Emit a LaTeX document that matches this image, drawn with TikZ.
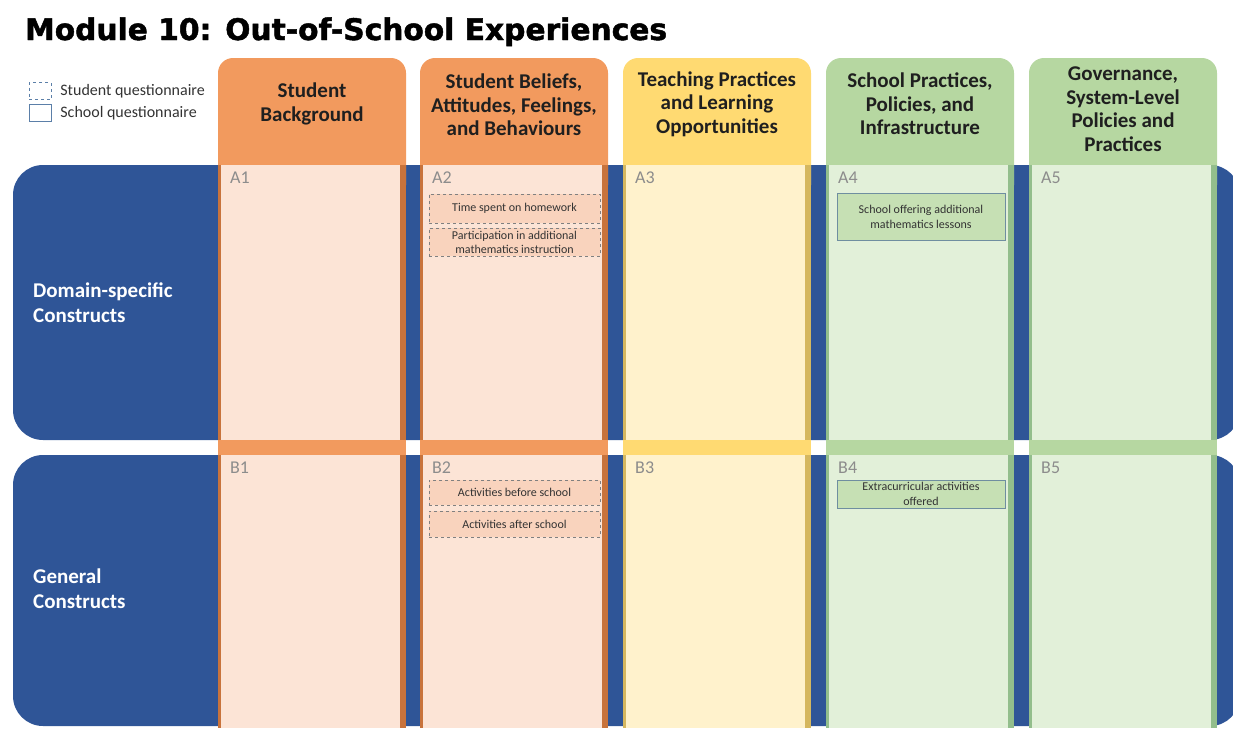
\documentclass[tikz,border=0pt]{standalone}
\usepackage{fontspec}
\setmainfont{Carlito}
\newfontfamily\titlefont[BoldFeatures={FakeBold=1.6}]{DejaVu Sans}
\usetikzlibrary{positioning}
\usepackage{xcolor}

\definecolor{rowblue}{HTML}{2F5597}
\definecolor{orhead}{HTML}{F29A5E}
\definecolor{orside}{HTML}{C8733C}
\definecolor{orcell}{HTML}{FCE4D6}
\definecolor{orbox}{HTML}{F9D3BD}
\definecolor{yehead}{HTML}{FFDA72}
\definecolor{yeside}{HTML}{D5B75F}
\definecolor{yecell}{HTML}{FFF2CC}
\definecolor{grhead}{HTML}{B6D7A1}
\definecolor{grside}{HTML}{93BE8C}
\definecolor{grcell}{HTML}{E2F0D9}
\definecolor{grbox}{HTML}{C6E0B4}
\definecolor{boxline}{HTML}{6F8EA0}
\definecolor{legline}{HTML}{5B7FA8}
\definecolor{taggray}{HTML}{8C8C8C}

\begin{document}
\begin{tikzpicture}[
    x=1pt, y=-1pt,
    row/.style={fill=rowblue, rounded corners=30pt},
    head/.style={rounded corners=15pt},
    hdtext/.style={font=\fontsize{21}{23.5}\selectfont\bfseries, align=center, text=black!88, inner sep=0pt},
    cell/.style={anchor=north west, inner sep=0pt, minimum width=179pt},
    tag/.style={anchor=north west, inner sep=0pt, font=\fontsize{18}{18}\selectfont, text=taggray},
    stu/.style={draw=black!50, dashed, fill=orbox, minimum width=171pt, inner sep=1pt, align=center, font=\fontsize{12}{14.5}\selectfont, text=black!80},
    sch/.style={draw=boxline, fill=grbox, minimum width=168pt, inner sep=1pt, align=center, font=\fontsize{12}{14.5}\selectfont, text=black!80},
    rowtext/.style={anchor=north west, inner sep=0pt, align=left, font=\fontsize{21}{25}\selectfont\bfseries, text=white},
    legtext/.style={inner sep=0pt, font=\fontsize{16}{16}\selectfont, text=black!80}
]
\useasboundingbox (0,0) rectangle (1233,728);

% title and legend
\node[anchor=base west, inner sep=0pt, font=\titlefont\bfseries\fontsize{29.7}{29.7}\selectfont] (title) at (25,40) {Module 10: Out-of-School Experiences};
\node[draw=legline, dashed, minimum width=22pt, minimum height=17pt, inner sep=0pt] (stukey) at (40,91) {};
\node[legtext, right=9pt of stukey] (stulbl) {Student questionnaire};
\node[draw=legline, minimum width=22pt, minimum height=17pt, inner sep=0pt] (schkey) at (40,113) {};
\node[legtext, right=9pt of schkey] (schlbl) {School questionnaire};

% construct rows
\fill[row] (13,165) rectangle (1240,440);
\fill[row] (13,455) rectangle (1240,726);
\node[rowtext] (dom) at (33,283) {Domain-specific\\Constructs};
\node[rowtext] (gen) at (33,569) {General\\Constructs};

% column 1
\fill[orhead, head] (218,58) rectangle (406,200);
\fill[orside] (218,165) rectangle (406,728);
\fill[orhead] (218,440) rectangle (406,455);
\node[cell, fill=orcell, minimum height=275pt] (a1) at (221,165) {};
\node[cell, fill=orcell, minimum height=273pt] (b1) at (221,455) {};
\node[hdtext] (h1) at (312,104) {Student\\Background};

% column 2
\fill[orhead, head] (420,58) rectangle (608,200);
\fill[orside] (420,165) rectangle (608,728);
\fill[orhead] (420,440) rectangle (608,455);
\node[cell, fill=orcell, minimum height=275pt] (a2) at (423,165) {};
\node[cell, fill=orcell, minimum height=273pt] (b2) at (423,455) {};
\node[hdtext] (h2) at (514,105) {Student Beliefs,\\Attitudes, Feelings,\\and Behaviours};

% column 3
\fill[yehead, head] (623,58) rectangle (811,200);
\fill[yeside] (623,165) rectangle (811,728);
\fill[yehead] (623,440) rectangle (811,455);
\node[cell, fill=yecell, minimum height=275pt] (a3) at (626,165) {};
\node[cell, fill=yecell, minimum height=273pt] (b3) at (626,455) {};
\node[hdtext] (h3) at (717,104) {Teaching Practices\\and Learning\\Opportunities};

% column 4
\fill[grhead, head] (826,58) rectangle (1014,200);
\fill[grside] (826,165) rectangle (1014,728);
\fill[grhead] (826,440) rectangle (1014,455);
\node[cell, fill=grcell, minimum height=275pt] (a4) at (829,165) {};
\node[cell, fill=grcell, minimum height=273pt] (b4) at (829,455) {};
\node[hdtext] (h4) at (920,104) {School Practices,\\Policies, and\\Infrastructure};

% column 5
\fill[grhead, head] (1029,58) rectangle (1217,200);
\fill[grside] (1029,165) rectangle (1217,728);
\fill[grhead] (1029,440) rectangle (1217,455);
\node[cell, fill=grcell, minimum height=275pt] (a5) at (1032,165) {};
\node[cell, fill=grcell, minimum height=273pt] (b5) at (1032,455) {};
\node[hdtext] (h5) at (1123,109) {Governance,\\System-Level\\Policies and\\Practices};

% cell tags
\node[tag] at ([shift={(9pt,-7pt)}]a1.north west) {A1};
\node[tag] at ([shift={(9pt,-7pt)}]a2.north west) {A2};
\node[tag] at ([shift={(9pt,-7pt)}]a3.north west) {A3};
\node[tag] at ([shift={(9pt,-7pt)}]a4.north west) {A4};
\node[tag] at ([shift={(9pt,-7pt)}]a5.north west) {A5};
\node[tag] at ([shift={(9pt,-7pt)}]b1.north west) {B1};
\node[tag] at ([shift={(9pt,-7pt)}]b2.north west) {B2};
\node[tag] at ([shift={(9pt,-7pt)}]b3.north west) {B3};
\node[tag] at ([shift={(9pt,-7pt)}]b4.north west) {B4};
\node[tag] at ([shift={(9pt,-7pt)}]b5.north west) {B5};

% questionnaire items
\node[stu, minimum height=29pt] (hw) at (514.5,208.5) {Time spent on homework};
\node[stu, minimum height=28pt, below=5pt of hw] (part) {Participation in additional\\mathematics instruction};
\node[sch, minimum height=47pt] (les) at (921,217) {School offering additional\\mathematics lessons};
\node[stu, minimum height=25pt] (bef) at (514.5,492.5) {Activities before school};
\node[stu, minimum height=26pt, below=6pt of bef] (aft) {Activities after school};
\node[sch, minimum height=28pt] (extra) at (921,494) {Extracurricular activities\\offered};
\end{tikzpicture}
\end{document}
